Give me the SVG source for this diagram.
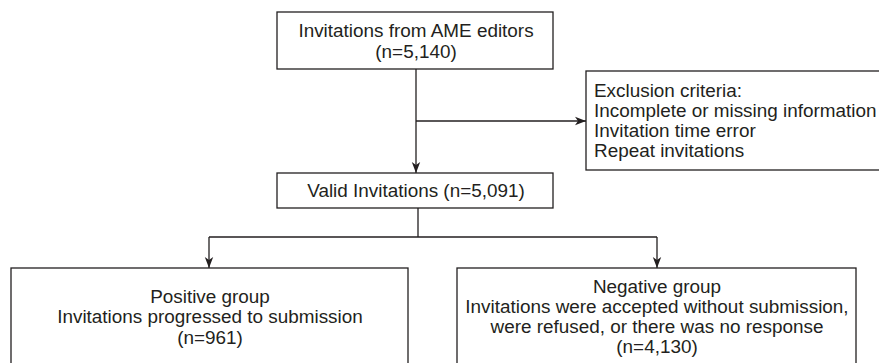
<svg xmlns="http://www.w3.org/2000/svg" width="879" height="363" viewBox="0 0 879 363">
<style>
.box{fill:#fff;stroke:#231f20;stroke-width:1.3}
.ln{fill:none;stroke:#231f20;stroke-width:1.3}
text{font-family:"Liberation Sans",Arial,Helvetica,sans-serif;font-size:18.9px;fill:#231f20}
.c{text-anchor:middle}
</style>
<defs>
<marker id="ah" viewBox="0 0 11 10" refX="11" refY="5" markerWidth="11" markerHeight="10" markerUnits="userSpaceOnUse" orient="auto">
<path d="M0,0.8 L11,5 L0,9.2 L3,5 Z" fill="#231f20"/>
</marker>
</defs>
<rect width="879" height="363" fill="#fff"/>
<g id="connectors">
<path class="ln" d="M416,69 V173" marker-end="url(#ah)"/>
<path class="ln" d="M416,121 H586" marker-end="url(#ah)"/>
<path class="ln" d="M418,208 V237 M209,237 H657"/>
<path class="ln" d="M209,237 V268" marker-end="url(#ah)"/>
<path class="ln" d="M657,237 V268" marker-end="url(#ah)"/>
</g>
<g id="invitations">
<rect class="box" x="277" y="12" width="276" height="57"/>
<text class="c" x="416" y="37">Invitations from AME editors</text>
<text class="c" x="416" y="58">(n=5,140)</text>
</g>
<g id="exclusion">
<rect class="box" x="586" y="71" width="320" height="99"/>
<text x="594" y="97">Exclusion criteria:</text>
<text x="594" y="117">Incomplete or missing information</text>
<text x="594" y="137">Invitation time error</text>
<text x="594" y="157">Repeat invitations</text>
</g>
<g id="valid">
<rect class="box" x="277" y="173" width="276" height="35"/>
<text class="c" x="416" y="197">Valid Invitations (n=5,091)</text>
</g>
<g id="positive">
<rect class="box" x="11" y="268" width="397" height="110"/>
<text class="c" x="210" y="303">Positive group</text>
<text class="c" x="210" y="323">Invitations progressed to submission</text>
<text class="c" x="210" y="344">(n=961)</text>
</g>
<g id="negative">
<rect class="box" x="457" y="268" width="399" height="110"/>
<text class="c" x="657" y="293">Negative group</text>
<text class="c" x="657" y="313">Invitations were accepted without submission,</text>
<text class="c" x="657" y="333">were refused, or there was no response</text>
<text class="c" x="657" y="353">(n=4,130)</text>
</g>
</svg>
